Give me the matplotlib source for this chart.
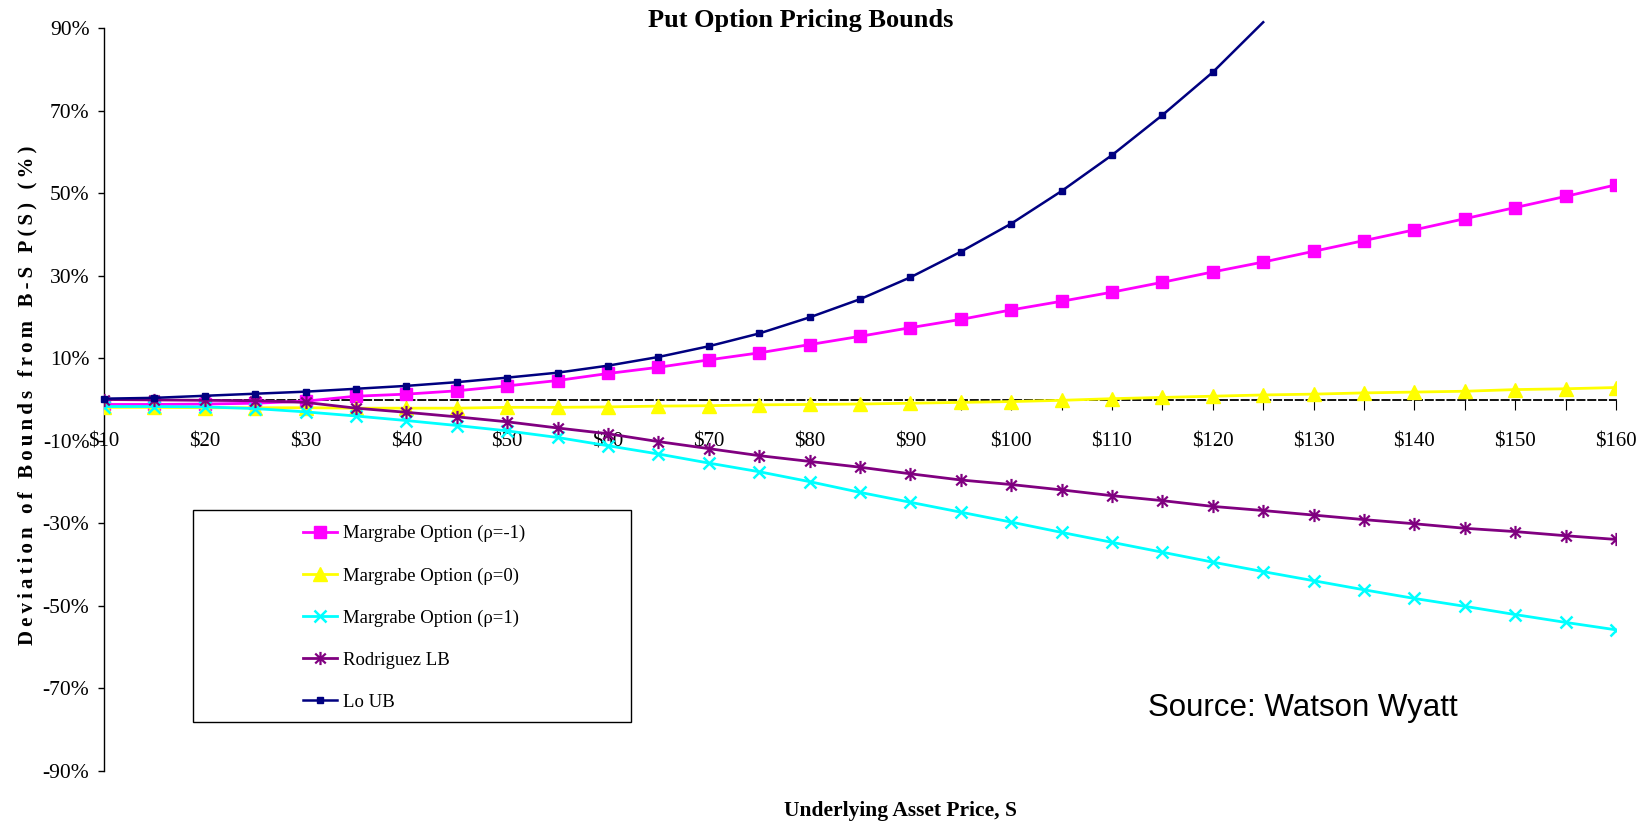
import matplotlib
matplotlib.use("Agg")
import matplotlib.pyplot as plt
from matplotlib.path import Path
from matplotlib.patches import Rectangle

# Underlying asset price S (category axis)
prices = [10, 15, 20, 25, 30, 35, 40, 45, 50, 55, 60, 65, 70, 75, 80, 85,
          90, 95, 100, 105, 110, 115, 120, 125, 130, 135, 140, 145, 150, 155, 160]

# Deviation of each bound from the Black-Scholes put price, in percent
margrabe_neg = [-1.2, -1.2, -1.1, -0.9, -0.4, 0.8, 1.3, 2.1, 3.3, 4.6, 6.3, 7.8,
                9.6, 11.3, 13.3, 15.3, 17.4, 19.4, 21.7, 23.8, 26.0, 28.4, 30.9,
                33.3, 35.9, 38.5, 41.1, 43.8, 46.5, 49.2, 52.0]
margrabe_zero = [-1.9, -1.9, -2.0, -2.0, -2.0, -2.1, -2.1, -2.1, -1.9, -1.9, -1.8,
                 -1.6, -1.5, -1.3, -1.2, -1.1, -0.9, -0.7, -0.5, -0.2, 0.2, 0.5,
                 0.8, 1.1, 1.3, 1.6, 1.8, 2.0, 2.4, 2.6, 2.9]
margrabe_pos = [-1.7, -1.7, -1.8, -2.2, -3.0, -4.0, -5.1, -6.3, -7.6, -9.2, -11.2,
                -13.2, -15.4, -17.5, -19.9, -22.5, -24.9, -27.3, -29.7, -32.2,
                -34.6, -37.0, -39.4, -41.7, -43.9, -46.1, -48.2, -50.1, -52.1,
                -54.0, -55.8]
rodriguez_lb = [0.0, -0.1, -0.2, -0.3, -0.7, -2.1, -3.1, -4.2, -5.4, -6.9, -8.3,
                -10.2, -11.9, -13.6, -15.0, -16.4, -18.0, -19.5, -20.6, -21.9,
                -23.3, -24.5, -25.9, -26.9, -28.0, -29.1, -30.1, -31.2, -32.0,
                -33.0, -33.9]
lo_ub = [0.2, 0.4, 0.9, 1.4, 1.9, 2.6, 3.3, 4.2, 5.3, 6.5, 8.2, 10.3, 12.9, 16.0,
         19.9, 24.3, 29.6, 35.8, 42.6, 50.5, 59.2, 68.9, 79.3, 91.4]

series_labels = ["Margrabe Option (\u03c1=-1)", "Margrabe Option (\u03c1=0)",
                 "Margrabe Option (\u03c1=1)", "Rodriguez LB", "Lo UB"]

y_ticks = [-90, -70, -50, -30, -10, 10, 30, 50, 70, 90]
y_tick_labels = ["-90%", "-70%", "-50%", "-30%", "-10%", "10%", "30%", "50%", "70%", "90%"]
x_label_prices = [10, 20, 30, 40, 50, 60, 70, 80, 90, 100, 110, 120, 130, 140, 150, 160]

title = "Put Option Pricing Bounds"
x_title = "Underlying Asset Price, S"
y_title = "Deviation of Bounds from B-S P(S) (%)"
source_note = "Source: Watson Wyatt"

SERIF = "Liberation Serif"
plt.rcParams["font.family"] = [SERIF, "DejaVu Serif"]

fig = plt.figure(figsize=(16.5, 8.25), dpi=100)
ax = fig.add_axes([104 / 1650, 1 - 771 / 825, (1616 - 104) / 1650, (771 - 28) / 825])

# asterisk marker: vertical bar plus an x
asterisk = Path([(0, -1), (0, 1), (-0.8, -0.75), (0.8, 0.75), (-0.8, 0.75), (0.8, -0.75)],
                [Path.MOVETO, Path.LINETO, Path.MOVETO, Path.LINETO, Path.MOVETO, Path.LINETO])

ax.plot(prices, margrabe_neg, color="#FF00FF", lw=2.0, marker="s", ms=8.5,
        mec="#FF00FF", label=series_labels[0], zorder=3)
ax.plot(prices, margrabe_zero, color="#FFFF00", lw=2.0, marker="^", ms=9.5,
        mec="#FFFF00", label=series_labels[1], zorder=3)
ax.plot(prices, margrabe_pos, color="#00FFFF", lw=2.0, marker="x", ms=8.5, mew=1.8,
        label=series_labels[2], zorder=3)
ax.plot(prices, rodriguez_lb, color="#800080", lw=2.0, marker=asterisk, ms=9.5, mew=1.6,
        fillstyle="none", label=series_labels[3], zorder=3)
visible_pts = [i for i, v in enumerate(lo_ub) if v <= 90]
ax.plot(prices[:len(lo_ub)], lo_ub, color="#000080", lw=1.8, marker="s", ms=5.0,
        markevery=visible_pts, label=series_labels[4], zorder=4, clip_on=False)

ax.set_xlim(prices[0], prices[-1])
ax.set_ylim(-90, 90)

# axes: left spine solid, category axis drawn dashed at zero
for side in ("top", "right"):
    ax.spines[side].set_visible(False)
ax.spines["left"].set_linewidth(1.0)
ax.spines["bottom"].set_position(("data", 0))
ax.spines["bottom"].set_linestyle((0, (4, 2)))
ax.spines["bottom"].set_linewidth(1.3)

ax.set_yticks(y_ticks)
ax.set_yticklabels(y_tick_labels)
ax.set_xticks(prices)
ax.set_xticklabels(["$%d" % p if p in x_label_prices else "" for p in prices])
ax.tick_params(axis="y", direction="out", length=4.5, width=1.0, pad=6, labelsize=15.5)
ax.tick_params(axis="x", direction="out", length=7, width=0.8, pad=17, labelsize=15)

fig.text(801 / 1650, 1 - 21 / 825, title, ha="center", va="center",
         fontsize=19, fontweight="bold")
fig.text(900 / 1650, 1 - 811 / 825, x_title, ha="center", va="center",
         fontsize=15.5, fontweight="bold")
fig.text(27 / 1650, 1 - 395 / 825, "\u2009".join(y_title), ha="center", va="center",
         rotation=90, fontsize=15, fontweight="bold")
fig.text(1148 / 1650, 1 - 708 / 825, source_note, ha="left", va="center",
         fontsize=22.5, family="Liberation Sans")

# legend with a separate wide frame
fig.patches.append(Rectangle((192.6 / 1650, 1 - 722 / 825), (631.4 - 192.6) / 1650,
                             (722 - 510.4) / 825, transform=fig.transFigure,
                             fill=False, edgecolor="black", linewidth=1.0))
fig.legend(loc="upper left", bbox_to_anchor=(303 / 1650, 1 - 525 / 825),
           frameon=False, fontsize=13.5, borderpad=0, borderaxespad=0,
           handlelength=1.8, handletextpad=0.35, labelspacing=1.33, numpoints=1)

fig.savefig("out.png", dpi=100)
